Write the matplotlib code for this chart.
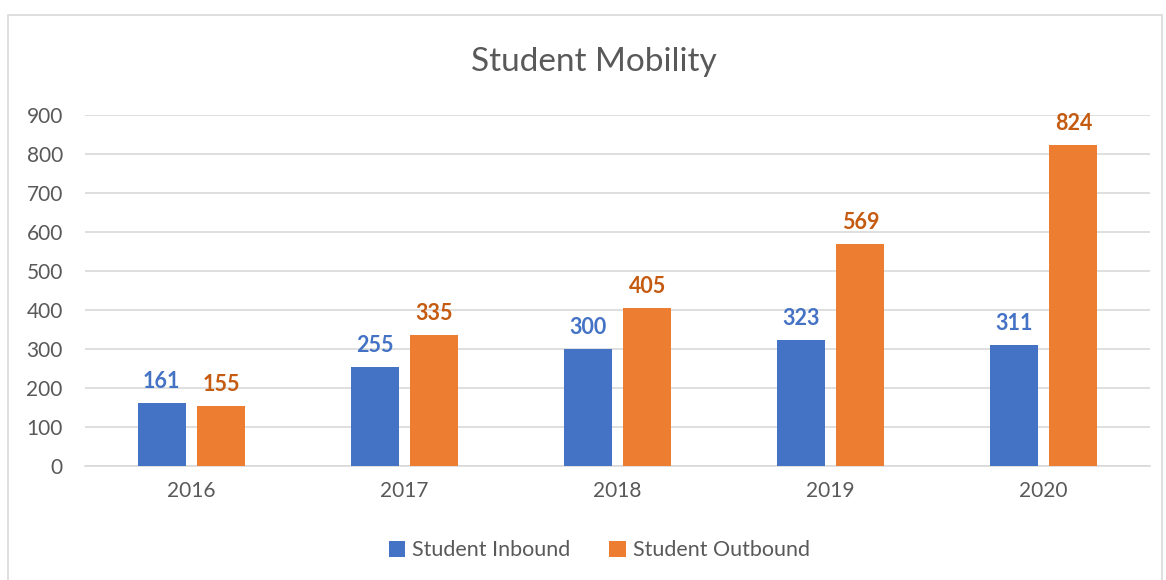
import matplotlib.pyplot as plt
from matplotlib.patches import Rectangle
import numpy as np

years = ['2016', '2017', '2018', '2019', '2020']
inbound = [161, 255, 300, 323, 311]
outbound = [155, 335, 405, 569, 824]

plt.rcParams['font.family'] = ['Lato', 'DejaVu Sans']

fig = plt.figure(figsize=(11.66, 5.8), dpi=100)
ax = fig.add_axes([85/1166, 1 - 466/580, (1150-85)/1166, (466-115)/580])

# chart border like Excel
fig.patches.append(Rectangle((8/1166, -0.05), (1162-8)/1166, 1 - 15/580 + 0.05,
                             transform=fig.transFigure, fill=False,
                             edgecolor='#d9d9d9', linewidth=1.2))

x = np.arange(len(years))
w = 0.225
off = 0.14
b1 = ax.bar(x - off, inbound, w, color='#4472C4', label='Student Inbound', zorder=3)
b2 = ax.bar(x + off, outbound, w, color='#ED7D31', label='Student Outbound', zorder=3)

for bars, vals, c in [(b1, inbound, '#4472C4'), (b2, outbound, '#C55A11')]:
    for r, v in zip(bars, vals):
        ax.text(r.get_x() + r.get_width()/2, v + 28, str(v), ha='center', va='bottom',
                fontsize=15.5, fontweight='bold', color=c)

ax.set_xlim(-0.5, len(years) - 0.5)
ax.set_ylim(0, 900)
ax.set_yticks(range(0, 901, 100))
ax.set_xticks(x)
ax.set_xticklabels(years)
ax.yaxis.grid(True, color='#d9d9d9', linewidth=1.2, zorder=0)
for s in ['top', 'right', 'left']:
    ax.spines[s].set_visible(False)
ax.spines['bottom'].set_color('#d9d9d9')
ax.spines['bottom'].set_linewidth(1.2)
ax.tick_params(length=0, labelsize=15, labelcolor='#595959')
ax.tick_params(axis='y', pad=16)
ax.tick_params(axis='x', pad=11)

fig.text(594/1166, 1 - 62/580, 'Student Mobility', ha='center', va='center',
         fontsize=24, color='#595959')

ax.legend(loc='center', bbox_to_anchor=(0.483, -0.24), ncol=2, frameon=False,
          fontsize=15.5, labelcolor='#595959', handlelength=0.75, handleheight=0.75,
          columnspacing=1.8, handletextpad=0.35)

fig.savefig('out.png', dpi=100)
